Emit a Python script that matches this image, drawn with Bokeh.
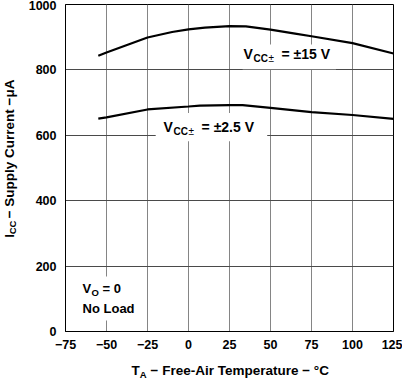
from bokeh.plotting import figure
from bokeh.models import Label, FixedTicker, Range1d, BoxAnnotation
from bokeh.layouts import column, row
from bokeh.embed import file_html
from bokeh.resources import INLINE

# ---- data ----
temp_15v = [-55, -50, -25, -10, 0, 10, 25, 35, 50, 65, 75, 100, 125]
icc_15v = [843, 853, 899, 916, 924, 929, 934, 933, 923, 911, 903, 882, 850]

temp_2p5v = [-55, -50, -25, 0, 7, 25, 33, 50, 75, 100, 125]
icc_2p5v = [651, 655, 679, 688, 691, 692, 692, 684, 671, 662, 650]

x_ticks = [-75, -50, -25, 0, 25, 50, 75, 100, 125]
x_tick_labels = ["\u221275", "\u221250", "\u221225", "0", "25", "50", "75", "100", "125"]
y_ticks = [0, 200, 400, 600, 800, 1000]
y_tick_labels = ["0", "200", "400", "600", "800", "1000"]

FONT = "Liberation Sans"

p = figure(width=382, height=356, x_range=Range1d(-75, 125), y_range=Range1d(0, 1000),
           output_backend="svg", toolbar_location=None,
           min_border_left=45, min_border_right=9, min_border_top=4, min_border_bottom=25)

p.outline_line_color = "black"
p.background_fill_color = "white"
p.border_fill_color = "white"

p.xaxis.ticker = FixedTicker(ticks=x_ticks)
p.yaxis.ticker = FixedTicker(ticks=y_ticks)
p.xaxis.major_label_overrides = dict(zip(x_ticks, x_tick_labels))
p.yaxis.major_label_overrides = dict(zip(y_ticks, y_tick_labels))
for ax in (p.xaxis, p.yaxis):
    ax.major_tick_out = 0
    ax.major_tick_in = 0
    ax.minor_tick_out = 0
    ax.minor_tick_in = 0
    ax.axis_line_color = "black"
    ax.major_label_text_font = FONT
    ax.major_label_text_font_style = "bold"
    ax.major_label_text_font_size = "12.5px"
    ax.major_label_text_color = "black"
p.xaxis.major_label_standoff = 8
p.yaxis.major_label_standoff = 9

p.xgrid.grid_line_color = "#858585"
p.ygrid.grid_line_color = "#4a4a4a"

p.line(temp_15v, icc_15v, line_color="black", line_width=2.2)
p.line(temp_2p5v, icc_2p5v, line_color="black", line_width=2.2)

# white covers behind the in-plot labels (they interrupt the grid)
for l, r, t, b in [(33, 90, 878, 802), (-20, 48, 668, 582), (-67, -31, 168, 34)]:
    p.add_layout(BoxAnnotation(left=l, right=r, top=t, bottom=b, fill_color="white",
                               fill_alpha=1, line_color=None))


def lab(fig, x, y, text, size, xo=0, yo=0, bold=True, angle=0):
    fig.add_layout(Label(x=x, y=y, x_offset=xo, y_offset=yo, text=text, angle=angle,
                         text_font=FONT, text_font_size=size,
                         text_font_style="bold" if bold else "normal",
                         text_color="black", text_align="left", text_baseline="middle"))


for x0, y0, rest in [(33.5, 848, "= \u00b115 V"), (-15.2, 625, "= \u00b12.5 V")]:
    lab(p, x0, y0, "V", "14px")
    lab(p, x0, y0, "CC", "10px", xo=10, yo=-4)
    lab(p, x0, y0, "\u00b1", "10px", xo=25, yo=-4, bold=False)
    lab(p, x0, y0, rest, "14px", xo=38)

lab(p, -64.6, 131, "V", "13px")
lab(p, -64.6, 131, "O", "9.5px", xo=9, yo=-4)
lab(p, -64.6, 131, "= 0", "13px", xo=20)
lab(p, -64.6, 70, "No Load", "13px")


def blank(w, h):
    f = figure(width=w, height=h, x_range=Range1d(0, w), y_range=Range1d(0, h),
               output_backend="svg", toolbar_location=None,
               x_axis_location=None, y_axis_location=None, min_border=0)
    f.outline_line_color = None
    f.grid.visible = False
    f.background_fill_color = "white"
    f.border_fill_color = "white"
    return f


# y axis title panel
py = blank(20, 356)
ang = 1.5707963267948966
lab(py, 8.5, 102, "I", "13.5px", angle=ang)
lab(py, 11.5, 105.8, "CC", "9.5px", angle=ang)
lab(py, 8.5, 123.2, "\u2212 Supply Current \u2212\u03bcA", "13.5px", angle=ang)

# x axis title panel
px = blank(402, 24)
lab(px, 131, 10, "T", "13.5px")
lab(px, 139.3, 6, "A", "9.5px")
lab(px, 150, 10, "\u2212 Free-Air Temperature \u2212 \u00b0C", "13.5px")

layout = column(row(py, p), px)
open("out.html", "w").write(file_html(layout, INLINE))
